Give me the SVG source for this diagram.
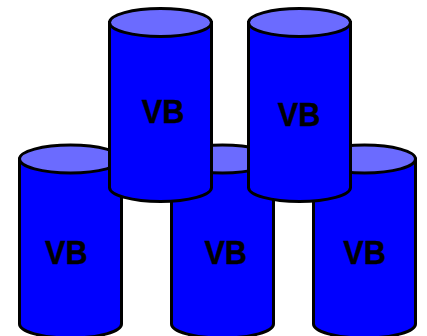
<svg xmlns="http://www.w3.org/2000/svg" width="427" height="336" viewBox="0 0 427 336">
<defs>
<style>
.body{fill:#0000ff;stroke:#000;stroke-width:3}
.lid{fill:#6b6bff;stroke:#000;stroke-width:3}
text{font-family:"Liberation Sans",Arial,sans-serif;font-weight:700;font-size:33px;text-anchor:middle;fill:#000;stroke:#000;stroke-width:.4}
</style>
<g id="can">
<path class="body" d="M0 0V165C0 172.700 22.800 179 51 179S102 172.700 102 165V0Z"/>
<ellipse class="lid" cx="51" cy="0" rx="51" ry="14"/>
</g>
</defs>
<rect width="427" height="336" fill="#fff"/>
<g id="node-bottom-left"><use href="#can" x="19.500" y="159"/><text transform="translate(66.300 263.500) scale(.93 1)">VB</text></g>
<g id="node-bottom-middle"><use href="#can" x="171.500" y="159"/><text transform="translate(225.700 263.500) scale(.93 1)">VB</text></g>
<g id="node-bottom-right"><use href="#can" x="313.500" y="159"/><text transform="translate(364.500 263.500) scale(.93 1)">VB</text></g>
<g id="node-top-left"><use href="#can" x="109.500" y="22.500"/><text transform="translate(163 122.500) scale(.93 1)">VB</text></g>
<g id="node-top-right"><use href="#can" x="248.500" y="22.500"/><text transform="translate(299 125.500) scale(.93 1)">VB</text></g>
<g id="connectors"></g>
</svg>
